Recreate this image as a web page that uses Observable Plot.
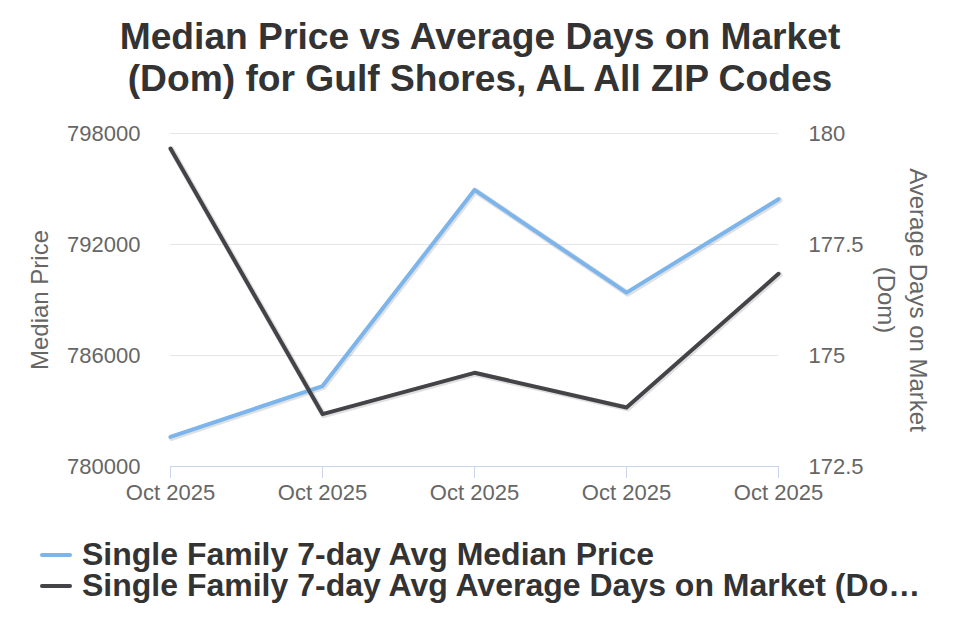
<!DOCTYPE html>
<html>
<head>
<meta charset="utf-8">
<script src="https://cdn.jsdelivr.net/npm/d3@7"></script>
<script src="https://cdn.jsdelivr.net/npm/@observablehq/plot@0.6"></script>
<style>
  body { margin: 0; background: #fff; font-family: "Liberation Sans", Arial, sans-serif; }
  #wrap { width: 960px; height: 640px; position: relative; }
  #title { padding-top: 15px; height: 86px; text-align: center; font-weight: bold; font-size: 37.2px; line-height: 42px; color: #333; }
  #legend { padding-top: 18px; padding-left: 40px; }
  .item { font-weight: bold; font-size: 32px; line-height: 31px; color: #333; white-space: nowrap; }
  .sw { display: inline-block; width: 32px; height: 4px; border-radius: 2px; vertical-align: middle; margin-right: 10px; position: relative; top: -2px; }
  svg { display: block; }
</style>
</head>
<body>
<div id="wrap">
  <div id="title">Median Price vs Average Days on Market<br>(Dom) for Gulf Shores, AL All ZIP Codes</div>
  <div id="chart"></div>
  <div id="legend"></div>
</div>
<script>
const xLabels = ["Oct 2025", "Oct 2025", "Oct 2025", "Oct 2025", "Oct 2025"];
const medianPrice = [781600, 784350, 794950, 789400, 794450];
const avgDom = [179.66, 173.68, 174.61, 173.83, 176.84];
const priceTicks = [780000, 786000, 792000, 798000];
const domTicks = [172.5, 175, 177.5, 180];
const seriesNames = ["Single Family 7-day Avg Median Price", "Single Family 7-day Avg Average Days on Market (Do\u2026"];
const colors = ["#7cb5ec", "#434348"];

const priceDomain = [780000, 798000];
const domDomain = [172.5, 180];
const domToPrice = d => priceDomain[0] + (d - domDomain[0]) * (priceDomain[1] - priceDomain[0]) / (domDomain[1] - domDomain[0]);

const data = xLabels.map((lab, i) => ({i, price: medianPrice[i], dom: avgDom[i], domP: domToPrice(avgDom[i])}));

const font = "'Liberation Sans', Arial, sans-serif";

const chart = Plot.plot({
  width: 960,
  height: 420,
  marginTop: 32,
  marginBottom: 55,
  marginLeft: 170,
  marginRight: 182,
  style: {fontFamily: font, fontSize: "22px", color: "#666", background: "#fff"},
  x: {domain: [0, xLabels.length - 1], axis: null},
  y: {domain: priceDomain, axis: null},
  marks: [
    Plot.ruleY(priceTicks.slice(1), {stroke: "#e6e6e6", strokeWidth: 1}),
    Plot.ruleY([priceDomain[0]], {stroke: "#ccd6eb", strokeWidth: 1}),
    Plot.axisX({ticks: d3.range(xLabels.length), tickFormat: i => xLabels[i], tickSize: 12, stroke: "#ccd6eb", strokeOpacity: 1, fill: "#666", tickPadding: 6, fontSize: 22, label: null}),
    Plot.axisY({ticks: priceTicks, tickFormat: d => String(d), tickSize: 0, tickPadding: 30, fill: "#666", fontSize: 22, label: null}),
    Plot.axisY({anchor: "right", ticks: domTicks.map(domToPrice), tickFormat: (d, k) => String(domTicks[k]), tickSize: 0, tickPadding: 30, fill: "#666", fontSize: 22, label: null}),
    Plot.text(["Median Price"], {frameAnchor: "left", textAnchor: "middle", text: d => d, rotate: -90, dx: -130, fontSize: 24, fill: "#666"}),
    Plot.text(["Average Days on Market\n(Dom)"], {frameAnchor: "right", textAnchor: "middle", text: d => d, rotate: 90, dx: 126, fontSize: 24, fill: "#666", lineHeight: 1.33}),
    // shadows
    Plot.line(data, {x: "i", y: "price", stroke: "#000", strokeOpacity: 0.12, strokeWidth: 6, dx: 1, dy: 1}),
    Plot.line(data, {x: "i", y: "domP", stroke: "#000", strokeOpacity: 0.12, strokeWidth: 6, dx: 1, dy: 1}),
    Plot.line(data, {x: "i", y: "price", stroke: colors[0], strokeWidth: 4}),
    Plot.line(data, {x: "i", y: "domP", stroke: colors[1], strokeWidth: 4})
  ]
});
document.getElementById("chart").appendChild(chart);

const legend = document.getElementById("legend");
seriesNames.forEach((name, k) => {
  const div = document.createElement("div");
  div.className = "item";
  const sw = document.createElement("span");
  sw.className = "sw";
  sw.style.background = colors[k];
  div.appendChild(sw);
  div.appendChild(document.createTextNode(name));
  legend.appendChild(div);
});
</script>
</body>
</html>
